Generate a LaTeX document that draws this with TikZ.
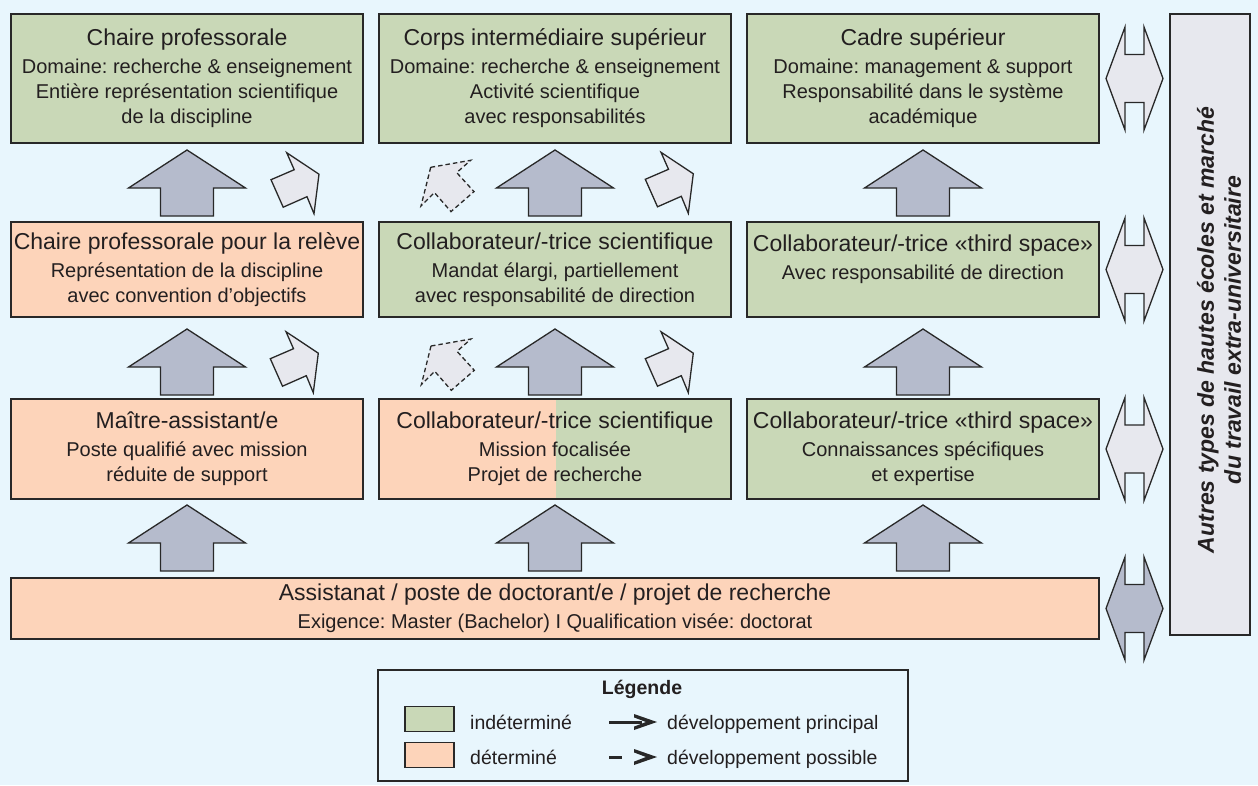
\documentclass[tikz,border=0pt]{standalone}
\usepackage{fontspec}
\setmainfont{Liberation Sans}
\usetikzlibrary{arrows.meta,calc}
\definecolor{bgc}{RGB}{232,246,253}
\definecolor{greenc}{RGB}{201,216,183}
\definecolor{orangec}{RGB}{253,212,186}
\definecolor{greyc}{RGB}{231,232,238}
\definecolor{arrowc}{RGB}{181,187,204}
\definecolor{linec}{RGB}{40,40,40}
\definecolor{textc}{RGB}{35,31,32}
\newcommand\ttl[1]{{\fontsize{23}{28}\selectfont #1}}
\frenchspacing
\begin{document}
\begin{tikzpicture}[x=1pt,y=-1pt,
  box/.style={draw=linec, line width=1.5pt, minimum width=352pt, inner sep=0pt,
    align=center, text=textc, font=\frenchspacing\fontsize{20}{25}\selectfont},
  gbox/.style={box, fill=greenc},
  obox/.style={box, fill=orangec},
  arrowline/.style={draw=linec, line width=1.3pt, line join=miter},
  uparrow/.pic={\draw[arrowline, fill=arrowc] (0,0) -- (58.5,38) -- (26.5,38) -- (26.5,66) -- (-26.5,66) -- (-26.5,38) -- (-58.5,38) -- cycle;},
  tiltarrow/.pic={\draw[arrowline, fill=greyc] (0,0) -- (7.5,17) -- (-15.7,27) -- (-3.5,54.5) -- (20.3,44) -- (27.3,61) -- (32.3,21.5) -- cycle;},
  dasharrow/.pic={\draw[arrowline, fill=greyc, dash pattern=on 4.5pt off 3pt] (0,0) -- (40,-7) -- (26,5.3) -- (43.3,24.3) -- (20.3,44.3) -- (3.7,25.3) -- (-9.7,38.7) -- cycle;},
  dblarrow/.pic={\draw[arrowline, fill=#1] (-28.5,0) -- (-9.5,-51.5) -- (-9.5,-24) -- (9.5,-24) -- (9.5,-51.5) -- (28.5,0) -- (9.5,51.5) -- (9.5,24) -- (-9.5,24) -- (-9.5,51.5) -- cycle;},
  leghead/.pic={\fill[linec] (0,0) -- (-23,-8) -- (-23,-4.6) -- (-11,0) -- (-23,4.6) -- (-23,8) -- cycle;},
  legtext/.style={anchor=base west, text=textc, font=\fontsize{19.5}{23}\selectfont, inner sep=0pt},
  legline/.style={draw=linec, line width=3pt}
]
\useasboundingbox (0,0) rectangle (1258,785);
\fill[bgc] (0,0) rectangle (1258,785);

% row 1
\node[gbox, minimum height=129pt] (a11) at (187,78.5) {\ttl{Chaire professorale}\\[3pt]Domaine: recherche \& enseignement\\Entière représentation scientifique\\de la discipline};
\node[gbox, minimum height=129pt] (a12) at (555,78.5) {\ttl{Corps intermédiaire supérieur}\\[3pt]Domaine: recherche \& enseignement\\Activité scientifique\\avec responsabilités};
\node[gbox, minimum height=129pt] (a13) at (923,78.5) {\ttl{Cadre supérieur}\\[3pt]Domaine: management \& support\\Responsabilité dans le système\\académique};

% row 2
\node[obox, minimum height=95pt] (a21) at (187,269.5) {\ttl{Chaire professorale pour la relève}\\[3pt]Représentation de la discipline\\avec convention d’objectifs};
\node[gbox, minimum height=95pt] (a22) at (555,269.5) {\ttl{Collaborateur/-trice scientifique}\\[3pt]Mandat élargi, partiellement\\avec responsabilité de direction};
\node[gbox, minimum height=95pt] (a23) at (923,269.5) {\ttl{Collaborateur/-trice «third space»}\\[3pt]Avec responsabilité de direction\\\phantom{A}};

% row 3
\node[obox, minimum height=100pt] (a31) at (187,449) {\ttl{Maître-assistant/e}\\[3pt]Poste qualifié avec mission\\réduite de support};
\node[box, minimum height=100pt,
  path picture={
    \fill[orangec] (path picture bounding box.south west) rectangle ([xshift=1pt]path picture bounding box.north);
    \fill[greenc] ([xshift=1pt]path picture bounding box.south) rectangle (path picture bounding box.north east);
  }] (a32) at (555,449) {\ttl{Collaborateur/-trice scientifique}\\[3pt]Mission focalisée\\Projet de recherche};
\node[gbox, minimum height=100pt] (a33) at (923,449) {\ttl{Collaborateur/-trice «third space»}\\[3pt]Connaissances spécifiques\\et expertise};

% row 4
\node[obox, minimum width=1088pt, minimum height=61pt] (a4) at (555,608.5) {\ttl{Assistanat / poste de doctorant/e / projet de recherche}\\[3pt]Exigence: Master (Bachelor) I Qualification visée: doctorat};

% right box
\node[draw=linec, line width=1.5pt, fill=greyc, minimum width=80pt, minimum height=621pt, inner sep=0pt] (other) at (1210,324.5) {};
\node[rotate=90, align=center, text=textc, font=\bfseries\itshape\fontsize{23}{27}\selectfont] (othertext) at (1219,330) {Autres types de hautes écoles et marché\\du travail extra-universitaire};

% up arrows
\foreach \cx in {187,555,923} {
  \pic at (\cx,150) {uparrow};
  \pic at (\cx,329) {uparrow};
  \pic at (\cx,505) {uparrow};
}
% tilted arrows
\pic at (286.7,152.7) {tiltarrow};
\pic at (661,152.3) {tiltarrow};
\pic at (286,331.7) {tiltarrow};
\pic at (661,331.7) {tiltarrow};
\pic at (430.7,167.3) {dasharrow};
\pic at (431,346) {dasharrow};

% double arrows
\pic at ($(a13.east)!0.5!(other.west |- a13.east)$) {dblarrow=greyc};
\pic at ($(a23.east)!0.5!(other.west |- a23.east)$) {dblarrow=greyc};
\pic at ($(a33.east)!0.5!(other.west |- a33.east)$) {dblarrow=greyc};
\pic at ($(a4.east)!0.5!(other.west |- a4.east)$) {dblarrow=arrowc};

% legend
\node[draw=linec, line width=1.3pt, fill=bgc, minimum width=530pt, minimum height=111pt, inner sep=0pt] (legend) at (643,725.5) {};
\node[text=textc, font=\bfseries\fontsize{19.5}{23}\selectfont, inner sep=0pt, anchor=base] (legtitle) at (642,694) {Légende};
\node[draw=linec, line width=1.3pt, fill=greenc, minimum width=49pt, minimum height=25pt, inner sep=0pt] (swg) at (429.5,719) {};
\node[draw=linec, line width=1.3pt, fill=orangec, minimum width=49pt, minimum height=25pt, inner sep=0pt] (swo) at (429.5,755) {};
\node[legtext] (lg) at (470,729) {indéterminé};
\node[legtext] (lo) at (470,764) {déterminé};
\coordinate (s1a) at (609,722);
\coordinate (s1b) at (642,722);
\coordinate (s1t) at (657,722);
\coordinate (s2a) at (609,757);
\coordinate (s2b) at (622,757);
\coordinate (s2t) at (657,757);
\draw[legline] (s1a) -- (s1b);
\pic at (s1t) {leghead};
\draw[legline] (s2a) -- (s2b);
\pic at (s2t) {leghead};
\node[legtext] (lp) at (667,729) {développement principal};
\node[legtext] (lq) at (667,764) {développement possible};
\end{tikzpicture}
\end{document}
